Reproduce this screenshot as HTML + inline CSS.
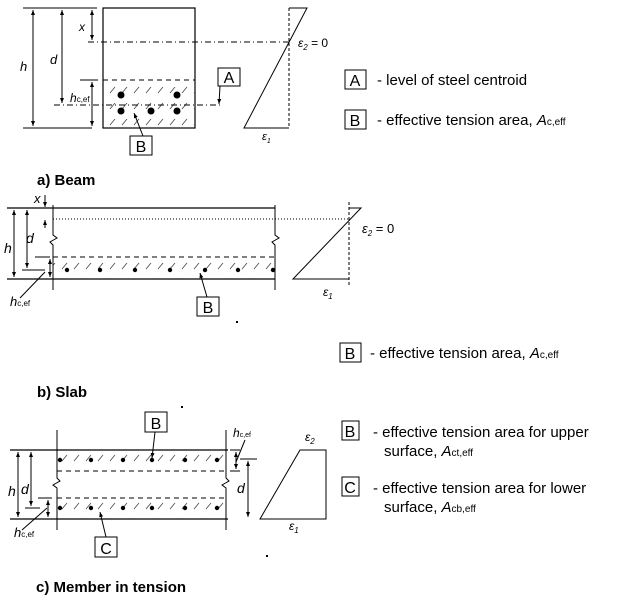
<!DOCTYPE html>
<html><head><meta charset="utf-8"><style>
html,body{margin:0;padding:0;background:#fff;}
svg{display:block;font-family:"Liberation Sans",Arial,sans-serif;}
</style></head><body>
<svg width="620" height="604" viewBox="0 0 620 604" xmlns="http://www.w3.org/2000/svg">
<defs>
<pattern id="hatch" width="12" height="16" patternUnits="userSpaceOnUse">
<line x1="2" y1="13" x2="7" y2="7" stroke="#444" stroke-width="0.8"/>
</pattern>
<marker id="ar" viewBox="0 0 10 10" refX="10" refY="5" markerWidth="5" markerHeight="5" orient="auto-start-reverse">
<path d="M0,1 L10,5 L0,9 z" fill="#000"/>
</marker>
</defs>
<g stroke="#000" stroke-width="1" fill="none">
<!-- BEAM -->
<rect x="103" y="8" width="92" height="120" stroke-width="1.2"/>
<rect x="103" y="80" width="92" height="48" fill="url(#hatch)" stroke="none"/>
<line x1="103" y1="80" x2="195" y2="80" stroke-dasharray="5,4"/>
<line x1="23" y1="8" x2="97" y2="8"/>
<line x1="23" y1="128" x2="92" y2="128"/>
<line x1="80" y1="80" x2="98" y2="80"/>
<line x1="33" y1="10" x2="33" y2="126" marker-start="url(#ar)" marker-end="url(#ar)"/>
<line x1="62" y1="10" x2="62" y2="103" marker-start="url(#ar)" marker-end="url(#ar)"/>
<line x1="92" y1="10" x2="92" y2="40" marker-start="url(#ar)" marker-end="url(#ar)"/>
<line x1="92" y1="82" x2="92" y2="126" marker-start="url(#ar)" marker-end="url(#ar)"/>
<line x1="88" y1="42" x2="290" y2="42" stroke-dasharray="6,3,1,3"/>
<line x1="54" y1="105" x2="220" y2="105" stroke-dasharray="6,3,1,3"/>
<line x1="220" y1="86" x2="219" y2="104" marker-end="url(#ar)"/>
<line x1="143" y1="136" x2="134" y2="113" marker-end="url(#ar)"/>
<line x1="289" y1="8" x2="289" y2="128" stroke-dasharray="3,2"/>
<polyline points="289,8 307,8 244,128 289,128"/>
<!-- SLAB -->
<line x1="7" y1="208" x2="275" y2="208" stroke-width="1.2"/>
<line x1="7" y1="279" x2="275" y2="279" stroke-width="1.2"/>
<rect x="53" y="257" width="222" height="22" fill="url(#hatch)" stroke="none"/>
<line x1="53" y1="257" x2="275" y2="257" stroke-dasharray="5,4"/>
<polyline points="53,205 53,235 57,238 50,242 53,245 53,290"/>
<polyline points="275,205 275,235 279,238 272,242 275,245 275,290"/>
<line x1="53" y1="219" x2="350" y2="219" stroke-dasharray="1,2"/>
<line x1="22" y1="270" x2="45" y2="270"/>
<line x1="35" y1="257" x2="50" y2="257"/>
<line x1="14" y1="210" x2="14" y2="277" marker-start="url(#ar)" marker-end="url(#ar)"/>
<line x1="27" y1="210" x2="27" y2="268" marker-start="url(#ar)" marker-end="url(#ar)"/>
<line x1="50" y1="259" x2="50" y2="277" marker-start="url(#ar)" marker-end="url(#ar)"/>
<line x1="45" y1="195" x2="45" y2="207" marker-end="url(#ar)"/>
<line x1="45" y1="228" x2="45" y2="220" marker-end="url(#ar)"/>
<line x1="20" y1="298" x2="45" y2="272"/>
<line x1="207" y1="297" x2="200" y2="273" marker-end="url(#ar)"/>
<line x1="349" y1="202" x2="349" y2="285" stroke-dasharray="3,2"/>
<polyline points="349,208 361,208 293,279 349,279"/>
<!-- TENSION -->
<line x1="10" y1="450" x2="228" y2="450" stroke-width="1.2"/>
<line x1="10" y1="519" x2="228" y2="519" stroke-width="1.2"/>
<rect x="57" y="450" width="169" height="21" fill="url(#hatch)" stroke="none"/>
<rect x="57" y="498" width="169" height="21" fill="url(#hatch)" stroke="none"/>
<line x1="57" y1="471" x2="226" y2="471" stroke-dasharray="5,4"/>
<line x1="57" y1="498" x2="226" y2="498" stroke-dasharray="5,4"/>
<polyline points="57,430 57,478 60,481 53,485 57,488 57,530"/>
<polyline points="226,430 226,478 229,481 222,485 226,488 226,530"/>
<line x1="25" y1="508" x2="40" y2="508"/>
<line x1="38" y1="498" x2="52" y2="498"/>
<line x1="18" y1="452" x2="18" y2="517" marker-start="url(#ar)" marker-end="url(#ar)"/>
<line x1="31" y1="452" x2="31" y2="506" marker-start="url(#ar)" marker-end="url(#ar)"/>
<line x1="48" y1="500" x2="48" y2="517" marker-start="url(#ar)" marker-end="url(#ar)"/>
<line x1="22" y1="530" x2="47" y2="508"/>
<line x1="230" y1="450" x2="240" y2="450"/>
<line x1="230" y1="471" x2="240" y2="471"/>
<line x1="236" y1="452" x2="236" y2="469" marker-start="url(#ar)" marker-end="url(#ar)"/>
<line x1="236" y1="462" x2="245" y2="440"/>
<line x1="240" y1="459" x2="257" y2="459"/>
<line x1="248" y1="461" x2="248" y2="517" marker-start="url(#ar)" marker-end="url(#ar)"/>
<line x1="155" y1="432" x2="152" y2="458" marker-end="url(#ar)"/>
<line x1="106" y1="537" x2="100" y2="512" marker-end="url(#ar)"/>
<polygon points="260,519 300,450 326,450 326,519"/>
</g>
<g fill="#000">
<circle cx="121" cy="95" r="3.5"/><circle cx="177" cy="95" r="3.5"/>
<circle cx="121" cy="111" r="3.5"/><circle cx="151" cy="111" r="3.5"/><circle cx="177" cy="111" r="3.5"/>
<circle cx="67" cy="270" r="2.2"/><circle cx="100" cy="270" r="2.2"/><circle cx="135" cy="270" r="2.2"/><circle cx="170" cy="270" r="2.2"/><circle cx="205" cy="270" r="2.2"/><circle cx="238" cy="270" r="2.2"/><circle cx="273" cy="270" r="2.2"/>
<circle cx="60" cy="460" r="2.2"/><circle cx="91" cy="460" r="2.2"/><circle cx="123" cy="460" r="2.2"/><circle cx="152" cy="460" r="2.2"/><circle cx="185" cy="460" r="2.2"/><circle cx="217" cy="460" r="2.2"/>
<circle cx="60" cy="508" r="2.2"/><circle cx="91" cy="508" r="2.2"/><circle cx="123" cy="508" r="2.2"/><circle cx="152" cy="508" r="2.2"/><circle cx="185" cy="508" r="2.2"/><circle cx="217" cy="508" r="2.2"/>
<rect x="236" y="321" width="2" height="2"/><rect x="181" y="406" width="2" height="2"/><rect x="266" y="555" width="2" height="2"/>
</g>
<g fill="#fff" stroke="#000" stroke-width="1">
<rect x="218" y="68" width="22" height="18"/>
<rect x="130" y="136" width="22" height="19"/>
<rect x="197" y="297" width="22" height="19"/>
<rect x="145" y="412" width="22" height="20"/>
<rect x="95" y="537" width="22" height="20"/>
<rect x="345" y="70" width="21" height="19"/>
<rect x="345" y="110" width="21" height="19"/>
<rect x="340" y="343" width="21" height="19"/>
<rect x="342" y="421" width="17" height="19"/>
<rect x="342" y="477" width="17" height="19"/>
</g>
<g font-size="16" text-anchor="middle">
<text x="229" y="83">A</text><text x="141" y="152">B</text><text x="208" y="313">B</text>
<text x="156" y="429">B</text><text x="106" y="554">C</text>
<text x="355" y="86">A</text><text x="355" y="126">B</text><text x="350" y="359">B</text>
<text x="350" y="437">B</text><text x="350" y="493">C</text>
</g>
<g font-style="italic" font-size="13">
<text x="79" y="31" font-size="12">x</text>
<text x="50" y="64">d</text>
<text x="20" y="71">h</text>
<text x="70" y="102" font-size="12">h<tspan font-size="8" font-style="normal">c,ef</tspan></text>
<text x="298" y="47" font-size="12">ε<tspan font-size="8" dy="3">2</tspan><tspan dy="-3" font-style="normal"> = 0</tspan></text>
<text x="262" y="140" font-size="11">ε<tspan font-size="7" dy="3">1</tspan></text>
<text x="34" y="203">x</text>
<text x="26" y="243" font-size="14">d</text>
<text x="4" y="253" font-size="14">h</text>
<text x="10" y="306" font-size="13">h<tspan font-size="8" font-style="normal">c,ef</tspan></text>
<text x="362" y="233" font-size="13">ε<tspan font-size="8" dy="3">2</tspan><tspan dy="-3" font-style="normal"> = 0</tspan></text>
<text x="323" y="296" font-size="12">ε<tspan font-size="8" dy="3">1</tspan></text>
<text x="21" y="494" font-size="14">d</text>
<text x="8" y="496" font-size="14">h</text>
<text x="14" y="537" font-size="13">h<tspan font-size="8" font-style="normal">c,ef</tspan></text>
<text x="233" y="437" font-size="12">h<tspan font-size="7" font-style="normal">c,ef</tspan></text>
<text x="237" y="493" font-size="14">d</text>
<text x="305" y="441" font-size="12">ε<tspan font-size="8" dy="3">2</tspan></text>
<text x="289" y="530" font-size="12">ε<tspan font-size="8" dy="3">1</tspan></text>
</g>
<g font-size="15">
<text x="377" y="85">- level of steel centroid</text>
<text x="377" y="125">- effective tension area, <tspan font-style="italic">A</tspan><tspan font-size="10">c,eff</tspan></text>
<text x="370" y="358">- effective tension area, <tspan font-style="italic">A</tspan><tspan font-size="10">c,eff</tspan></text>
<text x="373" y="437">- effective tension area for upper</text>
<text x="384" y="456">surface, <tspan font-style="italic">A</tspan><tspan font-size="10">ct,eff</tspan></text>
<text x="373" y="493">- effective tension area for lower</text>
<text x="384" y="512">surface, <tspan font-style="italic">A</tspan><tspan font-size="10">cb,eff</tspan></text>
</g>
<g font-size="15" font-weight="bold">
<text x="37" y="185">a)  Beam</text>
<text x="37" y="397">b)  Slab</text>
<text x="36" y="592">c)  Member in tension</text>
</g>
</svg>
</body></html>
